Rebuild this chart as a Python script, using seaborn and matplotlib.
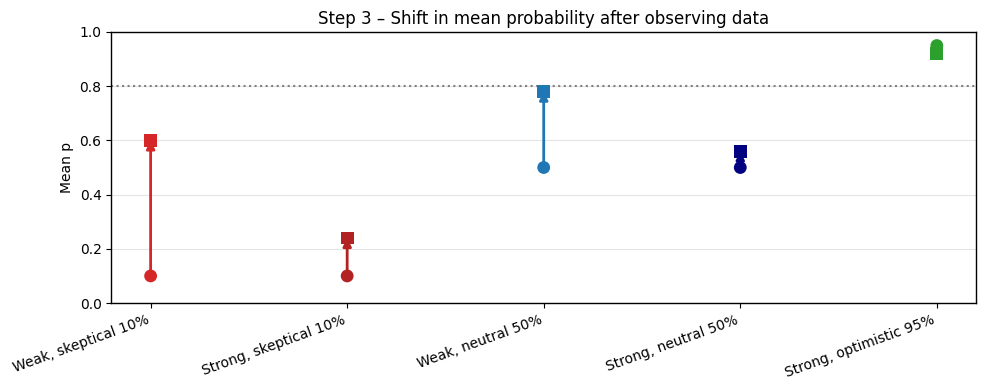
import pandas as pd
import numpy as np
import matplotlib.pyplot as plt
import seaborn as sns

# scenario labels, prior and posterior means
scenarios = ["Weak, skeptical 10%", "Strong, skeptical 10%", "Weak, neutral 50%",
             "Strong, neutral 50%", "Strong, optimistic 95%"]
prior_mean = [0.10, 0.10, 0.50, 0.50, 0.95]
post_mean = [0.60, 0.24, 0.78, 0.56, 0.922]
colors = ["#d62728", "#b22222", "#1f77b4", "#000080", "#2ca02c"]
target = 0.8

df = pd.DataFrame({"scenario": scenarios, "prior": prior_mean, "post": post_mean})
df["x"] = np.arange(len(df))

sns.set_style("white")
plt.rcParams['font.family'] = ['DejaVu Sans']
plt.rcParams['text.color'] = 'black'
plt.rcParams['axes.labelcolor'] = 'black'
plt.rcParams['xtick.color'] = 'black'
plt.rcParams['ytick.color'] = 'black'
fig, ax = plt.subplots(figsize=(9.85, 3.9), dpi=100)

# arrows from prior to posterior
for i, row in df.iterrows():
    ax.annotate("", xy=(row["x"], row["post"]), xytext=(row["x"], row["prior"]),
                arrowprops=dict(arrowstyle="-|>", color=colors[i], lw=2,
                                shrinkA=0, shrinkB=0, mutation_scale=12))

sns.scatterplot(data=df, x="x", y="prior", hue="scenario", palette=colors,
                marker="o", s=85, edgecolor="none", legend=False, ax=ax, zorder=3)
sns.scatterplot(data=df, x="x", y="post", hue="scenario", palette=colors,
                marker="s", s=85, edgecolor="none", legend=False, ax=ax, zorder=3)

ax.axhline(target, color="gray", ls=":", lw=1.5)

ax.set_xticks(df["x"])
ax.set_xticklabels(scenarios, rotation=20, ha="right")
ax.set_xlim(-0.2, 4.2)
ax.set_ylim(0, 1)
ax.set_xlabel("")
ax.set_ylabel("Mean p")
ax.set_title("Step 3 – Shift in mean probability after observing data")
ax.tick_params(axis="both", which="major", bottom=True, left=True, length=3.5)
ax.yaxis.grid(True, color="#e5e5e5", lw=0.8)
ax.xaxis.grid(False)
ax.set_axisbelow(True)
for s in ax.spines.values():
    s.set_color("black")
    s.set_linewidth(1)

plt.tight_layout()
plt.subplots_adjust(left=0.113, right=0.991, top=0.918, bottom=0.223)
plt.savefig("out.png")
plt.close()
